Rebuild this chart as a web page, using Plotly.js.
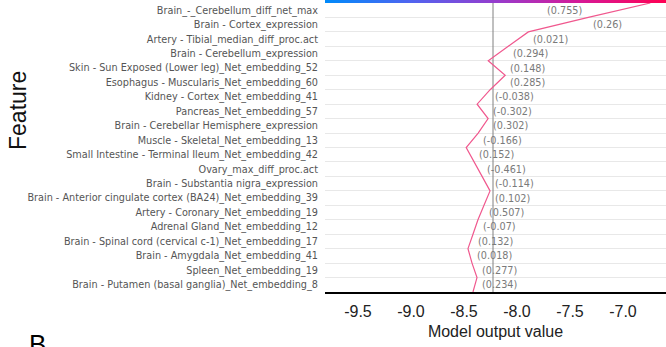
<!DOCTYPE html>
<html><head><meta charset="utf-8">
<script src="https://cdn.plot.ly/plotly-3.0.1.min.js"></script>
<style>html,body{margin:0;padding:0;background:#fff;overflow:hidden}</style>
</head><body><div id="chart" style="width:666px;height:347px"></div>
<script>
// Features listed top -> bottom as displayed
const featureNames = [
  "Brain_-_Cerebellum_diff_net_max",
  "Brain - Cortex_expression",
  "Artery - Tibial_median_diff_proc.act",
  "Brain - Cerebellum_expression",
  "Skin - Sun Exposed (Lower leg)_Net_embedding_52",
  "Esophagus - Muscularis_Net_embedding_60",
  "Kidney - Cortex_Net_embedding_41",
  "Pancreas_Net_embedding_57",
  "Brain - Cerebellar Hemisphere_expression",
  "Muscle - Skeletal_Net_embedding_13",
  "Small Intestine - Terminal Ileum_Net_embedding_42",
  "Ovary_max_diff_proc.act",
  "Brain - Substantia nigra_expression",
  "Brain - Anterior cingulate cortex (BA24)_Net_embedding_39",
  "Artery - Coronary_Net_embedding_19",
  "Adrenal Gland_Net_embedding_12",
  "Brain - Spinal cord (cervical c-1)_Net_embedding_17",
  "Brain - Amygdala_Net_embedding_41",
  "Spleen_Net_embedding_19",
  "Brain - Putamen (basal ganglia)_Net_embedding_8"
];
const featureValues = [0.755, 0.26, 0.021, 0.294, 0.148, 0.285, -0.038, -0.302, 0.302, -0.166,
                       0.152, -0.461, -0.114, 0.102, 0.507, -0.07, 0.132, 0.018, 0.277, 0.234];
const shapValues = [0.585, 0.566, 0.189, 0.189, -0.160, 0.142, 0.123, -0.104, 0.094, 0.113,
                    -0.075, -0.075, -0.075, 0.057, 0.057, 0.047, 0.047, -0.038, -0.047, 0.038];
const startValue = -8.415;   // value before the displayed features
const baseValue = -8.226;    // model expected value
const xTickVals = [-9.5, -9.0, -8.5, -8.0, -7.5, -7.0];
const xTickText = ["-9.5", "-9.0", "-8.5", "-8.0", "-7.5", "-7.0"];
const xRange = [-9.811, -6.594];

// bottom -> top
const names = featureNames.slice().reverse();
const vals = featureValues.slice().reverse();
const contrib = shapValues.slice().reverse();
const n = names.length;
const cum = [startValue];
for (let i = 0; i < n; i++) cum.push(cum[i] + contrib[i]);
const yPos = cum.map((_, i) => i);

const W = 666, L = 325, plotW = W - L;
const unitPerPx = (xRange[1] - xRange[0]) / plotW;
const valFont = 9.7;
function fmt(v) { return v.toFixed(3).replace(/0+$/, '').replace(/\.$/, ''); }

const annotations = [];
for (let i = 0; i < n; i++) {
  const txt = "(" + fmt(vals[i]) + ")";
  const estW = txt.length * 0.6 * valFont;
  const hi = Math.max(cum[i], cum[i + 1]);
  const lo = Math.min(cum[i], cum[i + 1]);
  const right = hi + (6 + estW) * unitPerPx > xRange[1];
  annotations.push({
    x: right ? lo : hi, y: i + 0.5, xref: 'x', yref: 'y',
    text: txt, showarrow: false,
    xanchor: right ? 'right' : 'left', yanchor: 'middle',
    xshift: right ? -4 : 3,
    font: {family: 'DejaVu Sans', size: valFont, color: '#7a7a7a'}
  });
}
annotations.push({
  x: (18 - L) / plotW, y: (292 - 111) / 292, xref: 'paper', yref: 'paper',
  text: 'Feature', textangle: -90, showarrow: false, xanchor: 'center', yanchor: 'middle',
  font: {family: 'Liberation Sans', size: 23, color: '#111'}
});
annotations.push({
  x: (27 - L) / plotW, y: (292 - 327) / 292, xref: 'paper', yref: 'paper',
  text: 'B', showarrow: false, xanchor: 'left', yanchor: 'top',
  font: {family: 'Liberation Sans', size: 26, color: '#000'}
});

const traces = [
  {type: 'heatmap', x: [0, 1], y: [0, 1], z: [[0, 1], [0, 1]], zsmooth: 'best',
   colorscale: [[0, 'rgb(0,138,250)'], [0.25, 'rgb(80,100,240)'], [0.5, 'rgb(150,60,205)'],
                [0.75, 'rgb(215,25,150)'], [1, 'rgb(255,0,82)']],
   showscale: false, xaxis: 'x2', yaxis: 'y2', hoverinfo: 'skip'},
  {type: 'scatter', mode: 'lines', x: [baseValue, baseValue], y: [yPos[0], yPos[n]],
   line: {color: '#808080', width: 1}, hoverinfo: 'skip', showlegend: false},
  {type: 'scatter', mode: 'lines', x: cum, y: yPos,
   line: {color: '#f0588e', width: 1.2}, hoverinfo: 'skip', showlegend: false}
];

const layout = {
  width: 666, height: 347,
  margin: {l: L, r: 0, t: 0, b: 55},
  paper_bgcolor: '#fff', plot_bgcolor: '#fff',
  showlegend: false,
  xaxis: {
    range: xRange, tickmode: 'array', tickvals: xTickVals, ticktext: xTickText,
    showgrid: false, zeroline: false, showline: true, linecolor: '#000', linewidth: 2,
    ticks: '', ticklabelstandoff: 4,
    tickfont: {family: 'Liberation Sans', size: 16, color: '#222'},
    title: {text: 'Model output value', font: {family: 'Liberation Sans', size: 16, color: '#222'}, standoff: 7},
    anchor: 'y'
  },
  yaxis: {
    domain: [0, 0.9897], range: [0, n], tickmode: 'array',
    tickvals: names.map((_, i) => i + 0.5), ticktext: names,
    showgrid: false, zeroline: false, showline: false, ticks: '',
    ticklabelstandoff: 6,
    tickfont: {family: 'DejaVu Sans', size: 9.7, color: '#555'},
    minor: {tickmode: 'array', tickvals: yPos.slice(1, n), showgrid: true, gridcolor: '#e8e8e8', gridwidth: 1, ticks: ''},
    anchor: 'x'
  },
  xaxis2: {domain: [0, 1], range: [0, 1], visible: false, anchor: 'y2', fixedrange: true},
  yaxis2: {domain: [0.9897, 1], range: [0, 1], visible: false, anchor: 'x2', fixedrange: true},
  annotations: annotations
};

Plotly.newPlot('chart', traces, layout, {displayModeBar: false, staticPlot: true});
</script>
</body></html>
